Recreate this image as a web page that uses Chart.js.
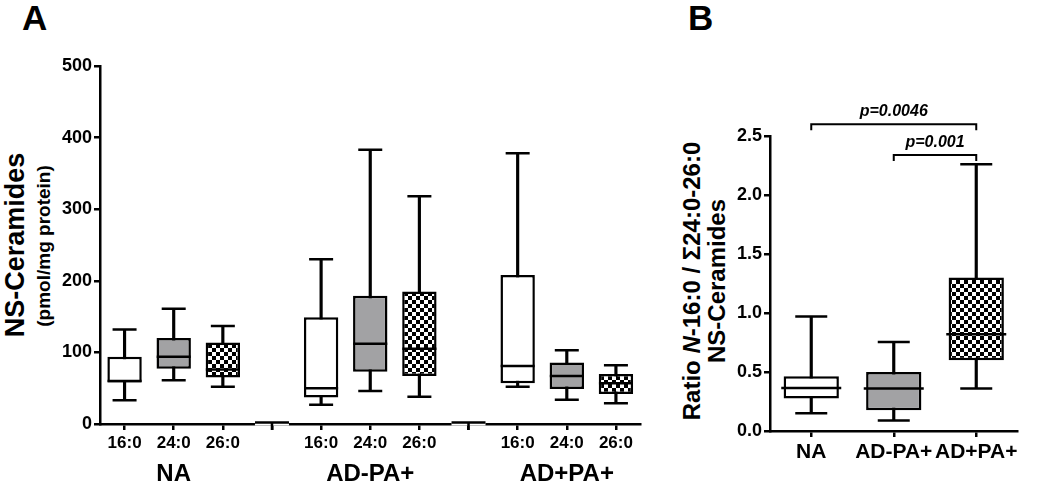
<!DOCTYPE html>
<html>
<head>
<meta charset="utf-8">
<script src="https://cdn.jsdelivr.net/npm/chart.js@4.4.1/dist/chart.umd.min.js"></script>
<style>
  body { margin: 0; background: #fff; width: 1050px; height: 488px; position: relative; overflow: hidden;
         font-family: "Liberation Sans", Arial, sans-serif; color: #000; }
  .panel { position: absolute; top: 0; }
  .letter { position: absolute; top: 0; font-weight: bold; font-size: 35px; line-height: 1; }
  .rot { position: absolute; white-space: nowrap; font-weight: bold; line-height: 1;
         transform: translate(-50%, -50%) rotate(-90deg); }
</style>
</head>
<body>
<div class="letter" style="left:22px">A</div>
<div class="letter" style="left:688px">B</div>

<div class="rot" style="left:15px;top:245px;font-size:27px">NS-Ceramides</div>
<div class="rot" style="left:43px;top:246px;font-size:19px">(pmol/mg protein)</div>
<div class="rot" style="left:692px;top:281px;font-size:24px">Ratio <i>N</i>-16:0 / Σ24:0-26:0</div>
<div class="rot" style="left:717px;top:281px;font-size:24px">NS-Ceramides</div>

<div class="panel" style="left:0;width:660px;height:488px"><canvas id="chartA" width="660" height="488"></canvas></div>
<div class="panel" style="left:660px;width:390px;height:488px"><canvas id="chartB" width="390" height="488"></canvas></div>

<script>
// Panel A: NS-ceramides by chain length (blank slots are the gaps between groups)
const chainLabels = ["16:0", "24:0", "26:0", "", "16:0", "24:0", "26:0", "", "16:0", "24:0", "26:0"];
const groupNames = ["NA", "AD-PA+", "AD+PA+"];
const minA = [33, 61, 52, null, 27, 46, 38, null, 52, 34, 29];
const q1A  = [58, 77, 65, null, 37, 73, 67, null, 57, 49, 42];
const medA = [60, 94, 76, null, 50, 112, 105, null, 81, 67, 57];
const q3A  = [94, 120, 114, null, 149, 179, 185, null, 208, 86, 70];
const maxA = [132, 161, 137, null, 230, 383, 318, null, 378, 103, 82];
const ticksA = [0, 100, 200, 300, 400, 500];

// Panel B: ratio N-16:0 / sum 24:0-26:0
const ratioGroups = ["NA", "AD-PA+", "AD+PA+"];
const minB = [0.15, 0.09, 0.36];
const q1B  = [0.275, 0.175, 0.60];
const medB = [0.365, 0.36, 0.82];
const q3B  = [0.465, 0.50, 1.30];
const maxB = [0.97, 0.755, 2.26];
const ticksB = [0, 0.5, 1.0, 1.5, 2.0, 2.5];
const pFrom = [0, 1];
const pTo = [2, 2];
const pLevel = [2.60, 2.34];
const pText = ["p=0.0046", "p=0.001"];

Chart.defaults.font.family = '"Liberation Sans", Arial, sans-serif';
Chart.defaults.color = "#000";

// checkered fill for the 26:0 boxes
function checker() {
  const c = document.createElement("canvas");
  c.width = 8; c.height = 8;
  const g = c.getContext("2d");
  g.fillStyle = "#fff"; g.fillRect(0, 0, 8, 8);
  g.fillStyle = "#000"; g.fillRect(0, 0, 4, 4); g.fillRect(4, 4, 4, 4);
  return g.createPattern(c, "repeat");
}
const check = checker();
const grey = "#a2a2a4";
const chainFill = { "16:0": "#fff", "24:0": grey, "26:0": check };

function pointLine(data, r) {
  return {
    type: "line", data: data, showLine: false, order: 0,
    pointStyle: "line", pointRadius: r, pointHoverRadius: r,
    pointBorderWidth: 2.5, pointBorderColor: "#000", borderColor: "#000"
  };
}

function boxSets(mins, q1s, meds, q3s, maxs, fills, pct, capR, medR) {
  return [
    { type: "bar", data: mins.map((v, i) => v == null ? null : [v, maxs[i]]),
      backgroundColor: "#000", barThickness: 2.5, grouped: false, order: 3 },
    { type: "bar", data: q1s.map((v, i) => v == null ? null : [v, q3s[i]]),
      backgroundColor: fills, borderColor: "#000", borderWidth: 2.5, borderSkipped: false,
      grouped: false, barPercentage: pct, categoryPercentage: 1, order: 2 },
    pointLine(meds, medR),
    pointLine(mins, capR),
    pointLine(maxs, capR)
  ];
}

function axisOpts(extra) {
  return Object.assign({
    grid: { drawOnChartArea: false, offset: false, color: "#000", lineWidth: 2.5, tickLength: 6 },
    border: { color: "#000", width: 2.5 }
  }, extra);
}

// group names under panel A + raised axis piece in the gaps
const groupLabels = {
  id: "groupLabels",
  afterDraw(chart) {
    const ctx = chart.ctx, x = chart.scales.x, y0 = chart.chartArea.bottom;
    ctx.save();
    ctx.font = "bold 24px 'Liberation Sans', Arial";
    ctx.textAlign = "center";
    ctx.textBaseline = "middle";
    ctx.fillStyle = "#000";
    groupNames.forEach((g, k) => {
      const cx = (x.getPixelForValue(k * 4) + x.getPixelForValue(k * 4 + 2)) / 2;
      ctx.fillText(g, cx, 474);
    });
    chainLabels.forEach((l, i) => {
      if (l !== "") return;
      const cx = x.getPixelForValue(i);
      ctx.fillStyle = "#fff";
      ctx.fillRect(cx - 17, y0 - 2, 34, 3.5);
      ctx.strokeStyle = "#000";
      ctx.lineWidth = 2.5;
      ctx.beginPath();
      ctx.moveTo(cx - 17, y0 - 1.5);
      ctx.lineTo(cx + 17, y0 - 1.5);
      ctx.moveTo(cx, y0 - 1.5);
      ctx.lineTo(cx, y0 + 6);
      ctx.stroke();
    });
    ctx.restore();
  }
};

// p-value brackets in panel B
const brackets = {
  id: "brackets",
  afterDraw(chart) {
    const ctx = chart.ctx, x = chart.scales.x, y = chart.scales.y;
    ctx.save();
    ctx.strokeStyle = "#000";
    ctx.fillStyle = "#000";
    ctx.lineWidth = 2;
    ctx.font = "italic bold 16px 'Liberation Sans', Arial";
    ctx.textAlign = "center";
    ctx.textBaseline = "alphabetic";
    pText.forEach((t, k) => {
      const xa = x.getPixelForValue(pFrom[k]), xb = x.getPixelForValue(pTo[k]);
      const yy = y.getPixelForValue(pLevel[k]);
      ctx.beginPath();
      ctx.moveTo(xa, yy + 6); ctx.lineTo(xa, yy); ctx.lineTo(xb, yy); ctx.lineTo(xb, yy + 6);
      ctx.stroke();
      ctx.fillText(t, (xa + xb) / 2, yy - 8);
    });
    ctx.restore();
  }
};

new Chart(document.getElementById("chartA"), {
  type: "bar",
  data: {
    labels: chainLabels,
    datasets: boxSets(minA, q1A, medA, q3A, maxA, chainLabels.map(l => chainFill[l] || "#fff"), 0.7, 12, 17)
  },
  options: {
    responsive: false,
    animation: false,
    layout: { padding: { top: 66, right: 18, left: 0, bottom: 0 } },
    plugins: { legend: { display: false }, tooltip: { enabled: false } },
    scales: {
      x: axisOpts({
        offset: true,
        ticks: { font: { size: 17, weight: "bold" }, padding: 3, maxRotation: 0, autoSkip: false },
        afterFit(s) { s.height = 64; }
      }),
      y: axisOpts({
        min: 0, max: 500,
        afterBuildTicks(s) { s.ticks = ticksA.map(v => ({ value: v })); },
        ticks: { font: { size: 18, weight: "bold" }, padding: 2 },
        afterFit(s) { s.width = 100; }
      })
    }
  },
  plugins: [groupLabels]
});

new Chart(document.getElementById("chartB"), {
  type: "bar",
  data: {
    labels: ratioGroups,
    datasets: boxSets(minB, q1B, medB, q3B, maxB, ["#fff", grey, check], 0.67, 16, 30)
  },
  options: {
    responsive: false,
    animation: false,
    layout: { padding: { top: 136, right: 4, left: 0, bottom: 0 } },
    plugins: { legend: { display: false }, tooltip: { enabled: false } },
    scales: {
      x: axisOpts({
        offset: true,
        ticks: { font: { size: 21, weight: "bold" }, padding: 3, maxRotation: 0, autoSkip: false },
        afterFit(s) { s.height = 57; }
      }),
      y: axisOpts({
        min: 0, max: 2.5,
        afterBuildTicks(s) { s.ticks = ticksB.map(v => ({ value: v })); },
        ticks: { font: { size: 18, weight: "bold" }, padding: 2, callback: v => Number(v).toFixed(1) },
        afterFit(s) { s.width = 110; }
      })
    }
  },
  plugins: [brackets]
});
</script>
</body>
</html>
